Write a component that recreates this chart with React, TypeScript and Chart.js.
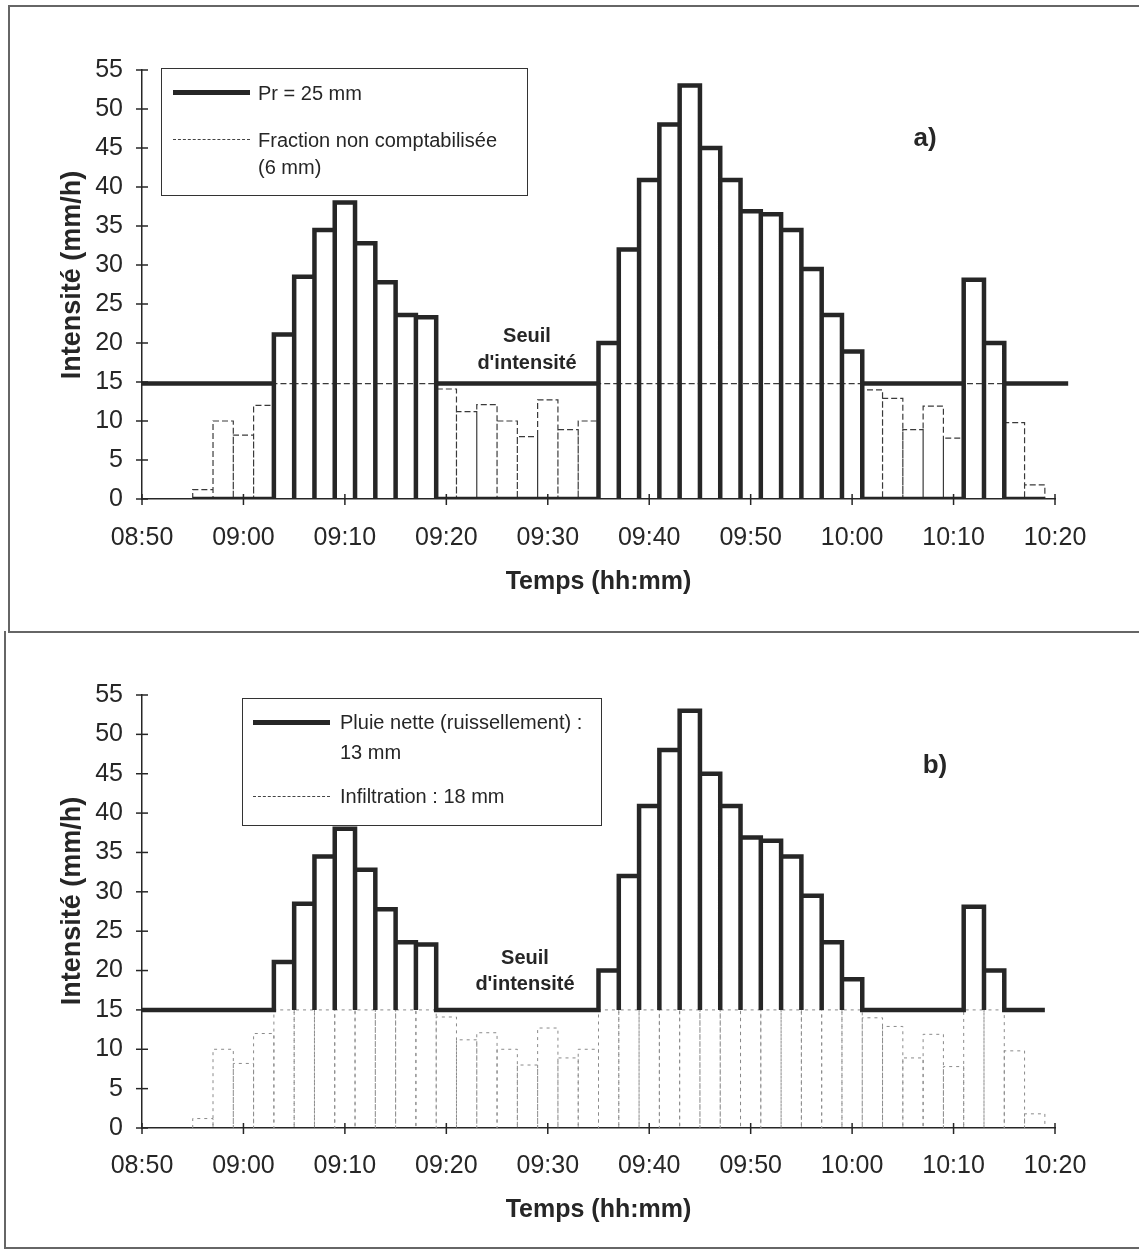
import React, { useEffect, useRef } from "react";
import { Chart, registerables } from "chart.js";

Chart.register(...registerables);

// ---------- DATA ----------
const barStartTimes = [
  "08:55", "08:57", "08:59", "09:01", "09:03", "09:05", "09:07", "09:09", "09:11", "09:13",
  "09:15", "09:17", "09:19", "09:21", "09:23", "09:25", "09:27", "09:29", "09:31", "09:33",
  "09:35", "09:37", "09:39", "09:41", "09:43", "09:45", "09:47", "09:49", "09:51", "09:53",
  "09:55", "09:57", "09:59", "10:01", "10:03", "10:05", "10:07", "10:09", "10:11", "10:13",
  "10:15", "10:17",
];
const intensity = [
  1.2, 10, 8.2, 12, 21.1, 28.5, 34.5, 38, 32.8, 27.8,
  23.6, 23.3, 14.1, 11.2, 12.1, 10, 8, 12.7, 8.9, 10,
  20, 32, 40.9, 48, 53, 45, 40.9, 36.9, 36.5, 34.5,
  29.5, 23.6, 18.9, 14, 12.9, 8.9, 11.9, 7.8, 28.1, 20,
  9.8, 1.8,
];
const barDurationMin = 2;
const thresholdA = 14.8;
const thresholdB = 15;
const thresholdAEnd = "10:21";
const xTickLabels = ["08:50", "09:00", "09:10", "09:20", "09:30", "09:40", "09:50", "10:00", "10:10", "10:20"];
const yTickValues = [0, 5, 10, 15, 20, 25, 30, 35, 40, 45, 50, 55];

const legendA = ["Pr = 25 mm", "Fraction non comptabilisée", "(6 mm)"];
const legendB = ["Pluie nette (ruissellement) :", "13 mm", "Infiltration : 18 mm"];
const yTitle = "Intensité (mm/h)";
const xTitle = "Temps (hh:mm)";

// ---------- HELPERS ----------
const ORIGIN = 8 * 60 + 50;
const toMin = (s: string) => {
  const [h, m] = s.split(":").map(Number);
  return h * 60 + m - ORIGIN;
};
const starts = barStartTimes.map(toMin);

type Pt = { x: number; y: number | null };

function outline(base: number, topFn: (v: number) => number): Pt[] {
  const pts: Pt[] = [];
  intensity.forEach((v, i) => {
    const t0 = starts[i];
    const t1 = t0 + barDurationMin;
    const top = topFn(v);
    pts.push({ x: t0, y: base }, { x: t0, y: top }, { x: t1, y: top }, { x: t1, y: base });
  });
  return pts;
}

function thresholdSegments(thr: number, endMin: number): Pt[] {
  const pts: Pt[] = [{ x: 0, y: thr }];
  intensity.forEach((v, i) => {
    const t0 = starts[i];
    const t1 = t0 + barDurationMin;
    if (v <= thr) {
      pts.push({ x: t0, y: thr }, { x: t1, y: thr });
    } else {
      pts.push({ x: t0, y: thr }, { x: t0 + 1, y: null });
    }
  });
  pts.push({ x: endMin, y: thr });
  return pts;
}

const FONT = '"Liberation Sans", Arial, Helvetica, sans-serif';
const INK = "#262626";
const THICK = 4.5;

const lineDs = (data: Pt[], width: number, color: string, dash: number[] = [], extra: any = {}) => ({
  data,
  showLine: true,
  borderColor: color,
  borderWidth: width,
  borderDash: dash,
  pointRadius: 0,
  spanGaps: false,
  borderJoinStyle: "miter",
  borderCapStyle: "butt",
  tension: 0,
  ...extra,
});

const crossTicks = {
  id: "crossTicks",
  afterDraw(chart: any) {
    const { ctx, chartArea, scales } = chart;
    ctx.save();
    ctx.strokeStyle = INK;
    ctx.lineWidth = 1.5;
    scales.y.ticks.forEach((t: any) => {
      const y = scales.y.getPixelForValue(t.value);
      ctx.beginPath();
      ctx.moveTo(chartArea.left - 6, y);
      ctx.lineTo(chartArea.left + 6, y);
      ctx.stroke();
    });
    scales.x.ticks.forEach((t: any) => {
      const x = scales.x.getPixelForValue(t.value);
      ctx.beginPath();
      ctx.moveTo(x, chartArea.bottom - 5);
      ctx.lineTo(x, chartArea.bottom + 6);
      ctx.stroke();
    });
    ctx.restore();
  },
};

type Geo = { padTop: number; xAxisH: number; tickPad: number; titlePadBottom: number };

function buildOptions(geo: Geo): any {
  return {
    animation: false,
    responsive: false,
    devicePixelRatio: 1,
    layout: { padding: { top: geo.padTop, left: 0, right: 84, bottom: 0 } },
    plugins: { legend: { display: false }, tooltip: { enabled: false } },
    scales: {
      x: {
        type: "linear",
        min: 0,
        max: 90,
        afterBuildTicks: (s: any) => {
          s.ticks = xTickLabels.map((_, i) => ({ value: i * 10 }));
        },
        ticks: {
          callback: (v: number) => xTickLabels[Math.round(v / 10)],
          font: { family: FONT, size: 25 },
          color: INK,
          padding: geo.tickPad,
          maxRotation: 0,
          autoSkip: false,
        },
        grid: { drawOnChartArea: false, drawTicks: false },
        border: { display: true, color: INK, width: 1.5 },
        title: {
          display: true,
          text: xTitle,
          font: { family: FONT, size: 25, weight: "bold" },
          color: INK,
          padding: { top: 0, bottom: geo.titlePadBottom },
        },
        afterFit: (s: any) => {
          s.height = geo.xAxisH;
        },
      },
      y: {
        min: 0,
        max: 55,
        afterBuildTicks: (s: any) => {
          s.ticks = yTickValues.map((v) => ({ value: v }));
        },
        ticks: {
          font: { family: FONT, size: 25 },
          color: INK,
          padding: 19,
          autoSkip: false,
        },
        grid: { drawOnChartArea: false, drawTicks: false },
        border: { display: true, color: INK, width: 1.5 },
        title: { display: false },
        afterFit: (s: any) => {
          s.width = 142;
        },
      },
    },
  };
}

function ChartCanvas({ top, height, datasets, geo }: { top: number; height: number; datasets: any[]; geo: Geo }) {
  const ref = useRef<HTMLCanvasElement | null>(null);
  useEffect(() => {
    if (!ref.current) return;
    const chart = new Chart(ref.current, {
      type: "scatter",
      data: { datasets },
      options: buildOptions(geo),
      plugins: [crossTicks],
    } as any);
    return () => chart.destroy();
  }, []);
  return (
    <canvas
      ref={ref}
      width={1139}
      height={height}
      style={{ position: "absolute", left: 0, top, width: 1139, height }}
    />
  );
}

const Txt = ({ x, y, children, size = 20, bold = false, center = false, rotate = false }: any) => (
  <div
    style={{
      position: "absolute",
      left: x,
      top: y,
      transform: rotate
        ? "translate(-50%, -50%) rotate(-90deg)"
        : center
        ? "translate(-50%, -50%)"
        : "translate(0, -50%)",
      fontFamily: FONT,
      fontSize: size,
      fontWeight: bold ? "bold" : "normal",
      color: INK,
      lineHeight: 1,
      whiteSpace: "nowrap",
    }}
  >
    {children}
  </div>
);

const Sample = ({ x, y, thick, dash }: any) =>
  thick ? (
    <div style={{ position: "absolute", left: x, top: y - 2.5, width: 77, height: 5, background: INK }} />
  ) : (
    <div style={{ position: "absolute", left: x, top: y, width: 77, borderTop: `1px ${dash} #444` }} />
  );

export default function App() {
  const dsA = [
    lineDs(outline(0, (v) => (v > thresholdA ? v : 0)), THICK, INK),
    lineDs(thresholdSegments(thresholdA, toMin(thresholdAEnd) + 0.3), THICK, INK, [], { clip: false }),
    lineDs(outline(0, (v) => Math.min(v, thresholdA)), 1.2, "#3a3a3a", [6, 3]),
  ];
  const dsB = [
    lineDs([{ x: 0, y: thresholdB } as Pt].concat(outline(thresholdB, (v) => Math.max(v, thresholdB))), THICK, INK),
    lineDs(outline(0, (v) => Math.min(v, thresholdB)), 1, "#8a8a8a", [3, 4]),
  ];

  return (
    <div style={{ position: "absolute", left: 0, top: 0, width: 1139, height: 1252, overflow: "hidden", background: "#fff" }}>
      <ChartCanvas top={0} height={630} datasets={dsA} geo={{ padTop: 70, xAxisH: 131, tickPad: 24, titlePadBottom: 33 }} />
      <ChartCanvas top={630} height={622} datasets={dsB} geo={{ padTop: 65, xAxisH: 124, tickPad: 23, titlePadBottom: 27 }} />

      {/* frames */}
      <div style={{ position: "absolute", left: 8, top: 5, width: 1140, height: 624, borderLeft: "2px solid #666", borderTop: "2px solid #666", borderBottom: "2px solid #666" }} />
      <div style={{ position: "absolute", left: 4, top: 631, width: 1140, height: 616, borderLeft: "2px solid #666", borderBottom: "2px solid #666" }} />

      {/* y-axis titles */}
      <Txt x={71} y={275} size={27} bold rotate>{yTitle}</Txt>
      <Txt x={71} y={901} size={27} bold rotate>{yTitle}</Txt>

      {/* panel a legend */}
      <div style={{ position: "absolute", left: 161, top: 68, width: 365, height: 126, border: "1.5px solid #333" }} />
      <Sample x={173} y={92} thick />
      <Txt x={258} y={93}>{legendA[0]}</Txt>
      <Sample x={173} y={139} dash="dashed" />
      <Txt x={258} y={140}>{legendA[1]}</Txt>
      <Txt x={258} y={167}>{legendA[2]}</Txt>
      <Txt x={925} y={137} size={26} bold center>a)</Txt>
      <Txt x={527} y={335} bold center>Seuil</Txt>
      <Txt x={527} y={362} bold center>d'intensité</Txt>

      {/* panel b legend */}
      <div style={{ position: "absolute", left: 242, top: 698, width: 358, height: 126, border: "1.5px solid #333" }} />
      <Sample x={253} y={722} thick />
      <Txt x={340} y={722}>{legendB[0]}</Txt>
      <Txt x={340} y={752}>{legendB[1]}</Txt>
      <Sample x={253} y={796} dash="dashed" />
      <Txt x={340} y={796}>{legendB[2]}</Txt>
      <Txt x={935} y={764} size={26} bold center>b)</Txt>
      <Txt x={525} y={957} bold center>Seuil</Txt>
      <Txt x={525} y={983} bold center>d'intensité</Txt>
    </div>
  );
}
